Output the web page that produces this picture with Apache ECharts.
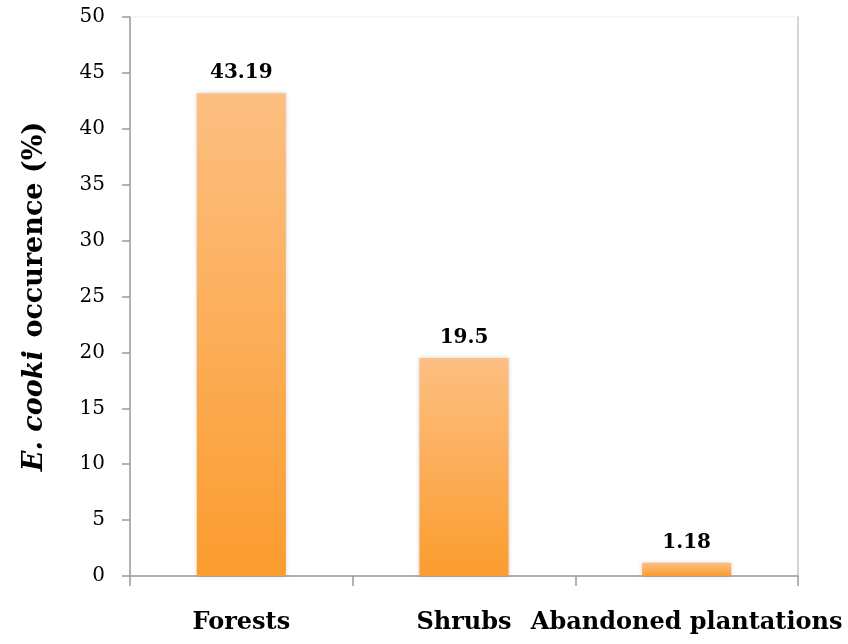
<!DOCTYPE html>
<html>
<head>
<meta charset="utf-8">
<script src="https://cdn.jsdelivr.net/npm/echarts@6/dist/echarts.min.js"></script>
<style>
  html, body { margin: 0; padding: 0; background: #fff; }
  #chart { width: 848px; height: 644px; }
</style>
</head>
<body>
<div id="chart"></div>
<script>
const categories = ["Forests", "Shrubs", "Abandoned plantations"];
const occurrence = [43.19, 19.5, 1.18];
const valueLabels = ["43.19", "19.5", "1.18"];

const serif = "DejaVu Serif";

const chart = echarts.init(document.getElementById("chart"), null, {
  renderer: "canvas",
});

const barFill = new echarts.graphic.LinearGradient(0, 0, 0, 1, [
  { offset: 0, color: "#fdbf82" },
  { offset: 1, color: "#fb9c2e" },
]);

const option = {
  backgroundColor: "#fff",
  animation: false,
  grid: {
    left: 130,
    right: 50,
    top: 17,
    bottom: 68,
    containLabel: false,
    show: true,
    borderColor: "#eeeeee",
    borderWidth: 1,
  },
  xAxis: {
    type: "category",
    data: categories,
    boundaryGap: true,
    axisLine: { lineStyle: { color: "#9a9a9a", width: 1.5 } },
    axisTick: {
      show: true,
      length: 10,
      alignWithLabel: false,
      lineStyle: { color: "#9a9a9a", width: 1.5 },
    },
    axisLabel: {
      interval: 0,
      margin: 35,
      fontFamily: serif,
      fontWeight: "bold",
      fontSize: 24,
      color: "#000",
    },
  },
  yAxis: [
    {
      type: "value",
      min: 0,
      max: 50,
      interval: 5,
      name: "{i|E. cooki} {b| occurence (%)}",
      nameLocation: "middle",
      nameRotate: 90,
      nameGap: 82,
      nameTextStyle: {
        rich: {
          i: {
            fontFamily: serif,
            fontStyle: "italic",
            fontWeight: "bold",
            fontSize: 27,
            color: "#000",
          },
          b: {
            fontFamily: serif,
            fontWeight: "bold",
            fontSize: 27,
            color: "#000",
          },
        },
      },
      axisLine: { show: true, lineStyle: { color: "#9a9a9a", width: 1.5 } },
      axisTick: {
        show: true,
        length: 8,
        lineStyle: { color: "#9a9a9a", width: 1.5 },
      },
      splitLine: { show: false },
      axisLabel: {
        margin: 25,
        fontFamily: serif,
        fontSize: 20,
        color: "#000",
      },
    },
    {
      type: "value",
      position: "right",
      min: 0,
      max: 50,
      interval: 5,
      axisLine: { show: true, lineStyle: { color: "#c8c8c8", width: 1.5 } },
      axisTick: { show: false },
      axisLabel: { show: false },
      splitLine: { show: false },
    },
  ],
  series: [
    {
      type: "bar",
      yAxisIndex: 0,
      data: occurrence,
      barWidth: "40%",
      itemStyle: {
        color: barFill,
        shadowBlur: 4,
        shadowColor: "rgba(0, 0, 0, 0.18)",
      },
      label: {
        show: true,
        position: "top",
        distance: 10,
        formatter: (p) => valueLabels[p.dataIndex],
        fontFamily: serif,
        fontWeight: "bold",
        fontSize: 20,
        color: "#000",
      },
    },
  ],
};

chart.setOption(option);
</script>
</body>
</html>
